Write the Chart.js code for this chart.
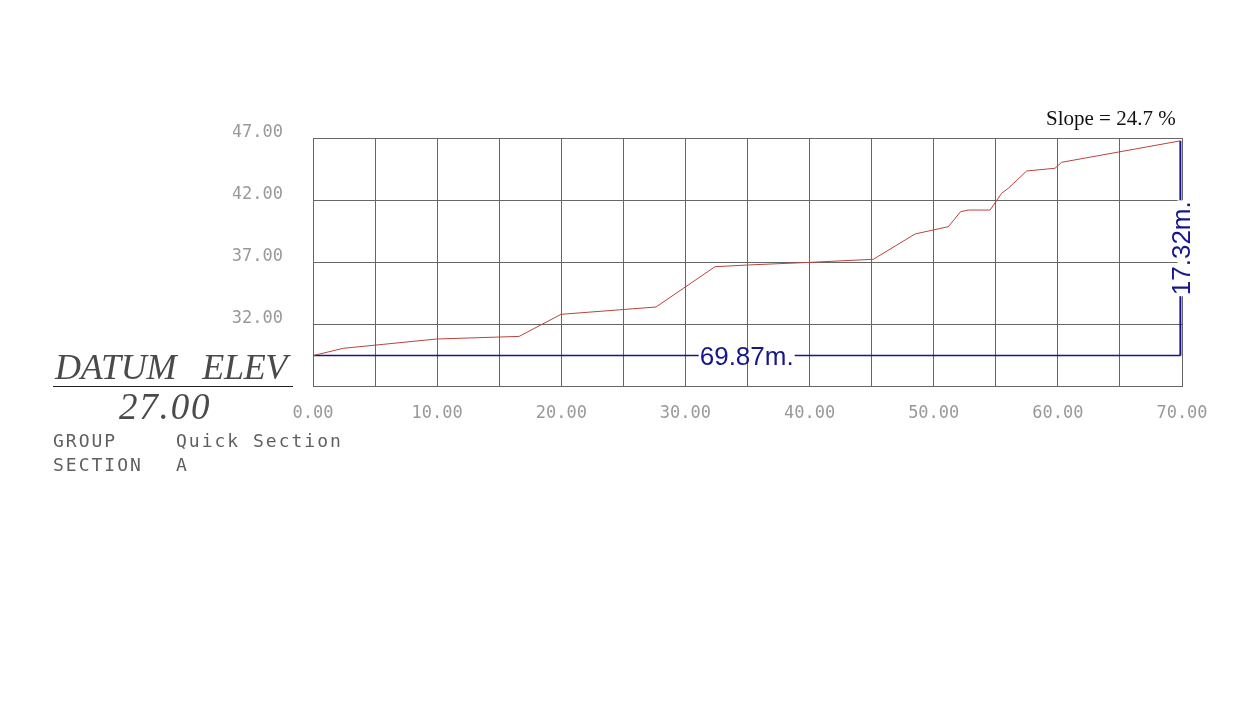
<!DOCTYPE html>
<html>
<head>
<meta charset="utf-8">
<script src="https://cdn.jsdelivr.net/npm/chart.js@4"></script>
<style>
  html, body { margin: 0; padding: 0; background: #fff; }
  #wrap { position: relative; width: 1253px; height: 721px; }
  canvas { position: absolute; left: 0; top: 0; }
  .txt { position: absolute; white-space: pre; line-height: 1; }
  #slope { left: 1046px; top: 106px; font: 21px 'Liberation Serif', serif; color: #111; }
  #datum { left: 55px; top: 346px; font: italic 36px 'Liberation Serif', serif; color: #4a4a4a; letter-spacing: -0.3px; }
  #rule { position: absolute; left: 53px; top: 386px; width: 240px; height: 1px; background: #222; }
  #datumVal { left: 119px; top: 385px; font: italic 37px 'Liberation Serif', serif; color: #4a4a4a; letter-spacing: 1.8px; }
  .mono { font: 18px 'DejaVu Sans Mono', monospace; color: #606060; letter-spacing: 2px; }
</style>
</head>
<body>
<div id="wrap">
  <canvas id="profileChart" width="1253" height="721"></canvas>
  <div class="txt" id="slope">Slope = 24.7 %</div>
  <div class="txt" id="datum">DATUM   ELEV</div>
  <div id="rule"></div>
  <div class="txt" id="datumVal">27.00</div>
  <div class="txt mono" style="left:53px;top:430px;">GROUP</div>
  <div class="txt mono" style="left:176px;top:430px;">Quick Section</div>
  <div class="txt mono" style="left:53px;top:454px;">SECTION</div>
  <div class="txt mono" style="left:176px;top:454px;">A</div>
</div>
<script>
// Profile (chainage m, elevation m)
const chainage = [0, 2.44, 5.66, 9.96, 16.6, 19.98, 27.63, 32.38, 35.07, 40.03, 45.14,
                  48.5, 51.18, 52.17, 52.79, 54.54, 55.47, 56.0, 57.49, 59.77, 60.3, 69.87];
const elevation = [29.45, 30.04, 30.36, 30.79, 31.0, 32.78, 33.37, 36.62, 36.76, 36.97, 37.22,
                   39.26, 39.85, 41.06, 41.19, 41.19, 42.54, 42.94, 44.34, 44.56, 45.04, 46.77];

const xTicks = [0, 5, 10, 15, 20, 25, 30, 35, 40, 45, 50, 55, 60, 65, 70];
const yTicks = [27, 32, 37, 42, 47];
const datumElev = 27;

// dimension lines
const runLength = 69.87;
const riseHeight = 17.32;
const baseElev = elevation[0];
const topElev = elevation[elevation.length - 1];

const gridColor = '#666';
const dimColor = '#16168c';

const profilePoints = chainage.map((c, i) => ({ x: c, y: elevation[i] }));

// draws the dimension texts on the lines
const dimLabels = {
    id: 'dimLabels',
    afterDatasetsDraw(chart) {
        const { ctx, scales: { x, y } } = chart;
        ctx.save();
        ctx.font = '26px "Liberation Sans", Arial, sans-serif';
        ctx.textAlign = 'center';
        ctx.textBaseline = 'middle';

        // horizontal length
        const hx = x.getPixelForValue(runLength / 2);
        const hy = y.getPixelForValue(baseElev);
        const hText = runLength.toFixed(2) + 'm.';
        const hw = ctx.measureText(hText).width;
        ctx.fillStyle = '#fff';
        ctx.fillRect(hx - hw / 2 - 1, hy - 3, hw + 2, 6);
        ctx.fillStyle = dimColor;
        ctx.fillText(hText, hx, hy + 2);

        // vertical rise
        const vx = x.getPixelForValue(runLength);
        const vy = y.getPixelForValue((baseElev + topElev) / 2);
        const vText = riseHeight.toFixed(2) + 'm.';
        const vw = ctx.measureText(vText).width;
        ctx.translate(vx, vy);
        ctx.rotate(-Math.PI / 2);
        ctx.fillStyle = '#fff';
        ctx.fillRect(-vw / 2 - 1, -3, vw + 2, 6);
        ctx.fillStyle = dimColor;
        ctx.fillText(vText, 0, 2);
        ctx.restore();
    }
};

new Chart(document.getElementById('profileChart'), {
    type: 'scatter',
    data: {
        datasets: [
            {
                label: 'Ground',
                data: profilePoints,
                showLine: true,
                borderColor: '#b8443c',
                borderWidth: 1,
                pointRadius: 0,
                tension: 0
            },
            {
                label: 'Length',
                data: [{ x: 0, y: baseElev }, { x: runLength, y: baseElev }],
                showLine: true,
                borderColor: dimColor,
                borderWidth: 1.5,
                pointRadius: 0
            },
            {
                label: 'Rise',
                data: [{ x: runLength, y: baseElev }, { x: runLength, y: topElev }],
                showLine: true,
                borderColor: dimColor,
                borderWidth: 2,
                pointRadius: 0
            }
        ]
    },
    options: {
        responsive: false,
        animation: false,
        layout: { padding: { left: 233, top: 138, right: 71, bottom: 285 } },
        plugins: {
            legend: { display: false },
            tooltip: { enabled: false }
        },
        scales: {
            x: {
                type: 'linear',
                min: 0,
                max: 70,
                afterBuildTicks: (scale) => { scale.ticks = xTicks.map(v => ({ value: v })); },
                afterFit: (scale) => { scale.height = 50; },
                grid: { color: gridColor, drawTicks: false },
                border: { color: gridColor },
                ticks: {
                    padding: 17,
                    color: '#999',
                    font: { family: "'DejaVu Sans Mono', monospace", size: 17 },
                    maxRotation: 0,
                    autoSkip: false,
                    callback: (v) => (v % 10 === 0 ? v.toFixed(2) : '')
                }
            },
            y: {
                type: 'linear',
                min: 27,
                max: 47,
                afterBuildTicks: (scale) => { scale.ticks = yTicks.map(v => ({ value: v })); },
                afterFit: (scale) => { scale.width = 80; },
                grid: { color: gridColor, drawTicks: false },
                border: { color: gridColor },
                ticks: {
                    padding: 30,
                    labelOffset: -5,
                    color: '#999',
                    font: { family: "'DejaVu Sans Mono', monospace", size: 17 },
                    callback: (v) => (v === datumElev ? '' : v.toFixed(2))
                }
            }
        }
    },
    plugins: [dimLabels]
});
</script>
</body>
</html>
